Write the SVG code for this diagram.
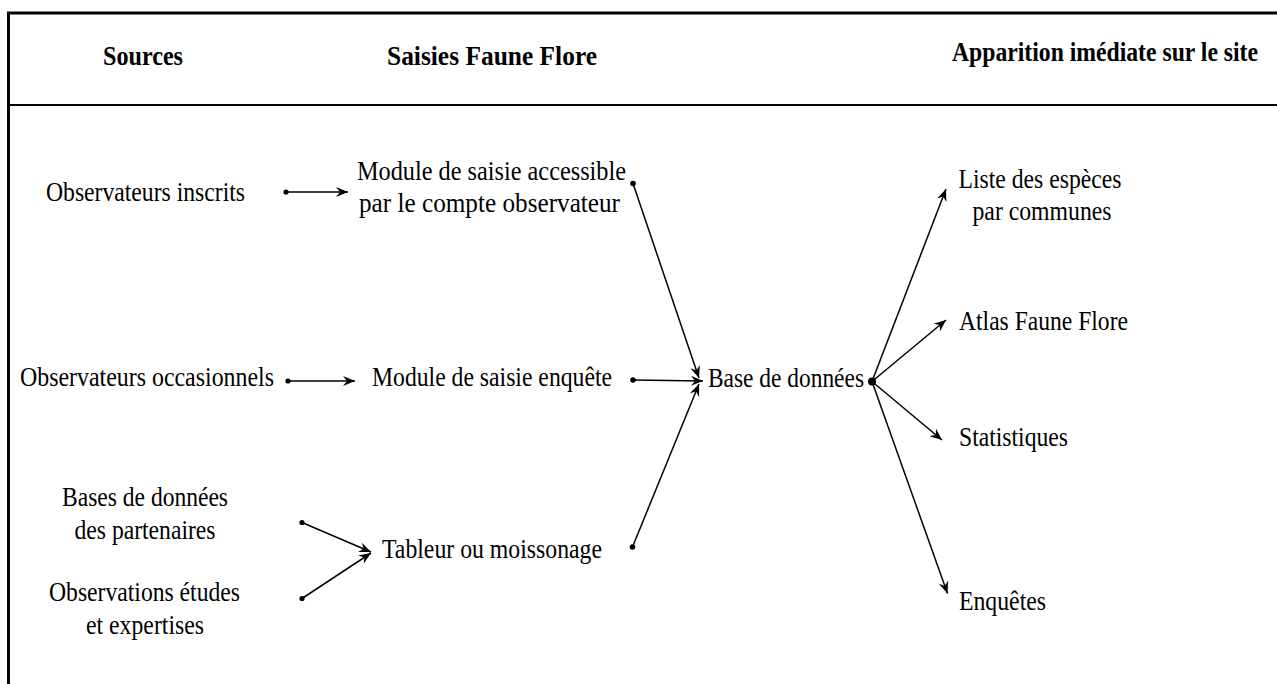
<svg xmlns="http://www.w3.org/2000/svg" width="1277" height="684" viewBox="0 0 1277 684">
<style>
  text { font-family: "Liberation Serif", "Times New Roman", serif; fill: #000; }
  .h { font-size: 27px; font-weight: bold; }
  .t { font-size: 27px; }
  .frame { stroke: #000; fill: none; }
  .c line, .c path { stroke: #000; stroke-width: 1.5; fill: none; }
  .dot { fill: #000; }
</style>
<defs>
  <marker id="ah" viewBox="-13 -6 14 12" refX="0" refY="0" markerWidth="14" markerHeight="12" markerUnits="userSpaceOnUse" orient="auto">
    <path d="M0,0 L-12,-5 L-8,0 L-12,5 Z" fill="#000"/>
  </marker>
</defs>
<rect width="1277" height="684" fill="#fff"/>
<g id="frame">
  <line class="frame" x1="7" y1="13" x2="1277" y2="13" stroke-width="3.2"/>
  <line class="frame" x1="8.5" y1="12" x2="8.5" y2="684" stroke-width="3"/>
  <line class="frame" x1="10" y1="105" x2="1277" y2="105" stroke-width="2"/>
</g>
<g id="headers">
  <text class="h" x="143" y="65" text-anchor="middle" textLength="80" lengthAdjust="spacingAndGlyphs">Sources</text>
  <text class="h" x="492" y="65" text-anchor="middle" textLength="210" lengthAdjust="spacingAndGlyphs">Saisies Faune Flore</text>
  <text class="h" x="1105" y="61" text-anchor="middle" textLength="306" lengthAdjust="spacingAndGlyphs">Apparition imédiate sur le site</text>
</g>
<g id="obs-inscrits"><text class="t" x="145.5" y="201" text-anchor="middle" textLength="199" lengthAdjust="spacingAndGlyphs">Observateurs inscrits</text></g>
<g id="obs-occasionnels"><text class="t" x="147" y="386" text-anchor="middle" textLength="254" lengthAdjust="spacingAndGlyphs">Observateurs occasionnels</text></g>
<g id="bases-partenaires">
  <text class="t" x="145" y="506" text-anchor="middle" textLength="166" lengthAdjust="spacingAndGlyphs">Bases de données</text>
  <text class="t" x="145" y="539" text-anchor="middle" textLength="141" lengthAdjust="spacingAndGlyphs">des partenaires</text>
</g>
<g id="observations-etudes">
  <text class="t" x="144.5" y="601" text-anchor="middle" textLength="191" lengthAdjust="spacingAndGlyphs">Observations études</text>
  <text class="t" x="145" y="634" text-anchor="middle" textLength="118" lengthAdjust="spacingAndGlyphs">et expertises</text>
</g>
<g id="module-compte">
  <text class="t" x="491.5" y="180" text-anchor="middle" textLength="269" lengthAdjust="spacingAndGlyphs">Module de saisie accessible</text>
  <text class="t" x="489.5" y="212" text-anchor="middle" textLength="261" lengthAdjust="spacingAndGlyphs">par le compte observateur</text>
</g>
<g id="module-enquete"><text class="t" x="492" y="386" text-anchor="middle" textLength="240" lengthAdjust="spacingAndGlyphs">Module de saisie enquête</text></g>
<g id="tableur"><text class="t" x="492" y="558" text-anchor="middle" textLength="220" lengthAdjust="spacingAndGlyphs">Tableur ou moissonage</text></g>
<g id="base-donnees"><text class="t" x="786" y="387" text-anchor="middle" textLength="156" lengthAdjust="spacingAndGlyphs">Base de données</text></g>
<g id="liste-especes">
  <text class="t" x="1040" y="188" text-anchor="middle" textLength="163" lengthAdjust="spacingAndGlyphs">Liste des espèces</text>
  <text class="t" x="1042" y="220" text-anchor="middle" textLength="139" lengthAdjust="spacingAndGlyphs">par communes</text>
</g>
<g id="atlas"><text class="t" x="959" y="330" textLength="169" lengthAdjust="spacingAndGlyphs">Atlas Faune Flore</text></g>
<g id="statistiques"><text class="t" x="959" y="446" textLength="109" lengthAdjust="spacingAndGlyphs">Statistiques</text></g>
<g id="enquetes"><text class="t" x="959" y="610" textLength="87" lengthAdjust="spacingAndGlyphs">Enquêtes</text></g>
<g id="connectors" class="c">
  <line x1="286" y1="192" x2="348" y2="192" marker-end="url(#ah)"/>
  <line x1="288" y1="381" x2="355" y2="381" marker-end="url(#ah)"/>
  <line x1="302" y1="522.5" x2="371" y2="552" marker-end="url(#ah)"/>
  <line x1="302" y1="598.5" x2="371" y2="553" marker-end="url(#ah)"/>
  <line x1="633" y1="183.5" x2="699" y2="378" marker-end="url(#ah)"/>
  <line x1="633" y1="380" x2="703" y2="381" marker-end="url(#ah)"/>
  <line x1="632.5" y1="547" x2="699" y2="384" marker-end="url(#ah)"/>
  <line x1="872" y1="381.5" x2="946" y2="189" marker-end="url(#ah)"/>
  <line x1="872" y1="381.5" x2="946" y2="320" marker-end="url(#ah)"/>
  <line x1="872" y1="381.5" x2="942" y2="440" marker-end="url(#ah)"/>
  <line x1="872" y1="381.5" x2="947.5" y2="593.5" marker-end="url(#ah)"/>
  <circle class="dot" cx="286" cy="192" r="2.6"/>
  <circle class="dot" cx="288" cy="381" r="2.6"/>
  <circle class="dot" cx="302" cy="522.5" r="2.6"/>
  <circle class="dot" cx="302" cy="598.5" r="2.6"/>
  <circle class="dot" cx="633" cy="183.5" r="2.8"/>
  <circle class="dot" cx="633" cy="380" r="2.8"/>
  <circle class="dot" cx="632.5" cy="547" r="2.8"/>
  <circle class="dot" cx="872" cy="381.5" r="4"/>
</g>
</svg>
